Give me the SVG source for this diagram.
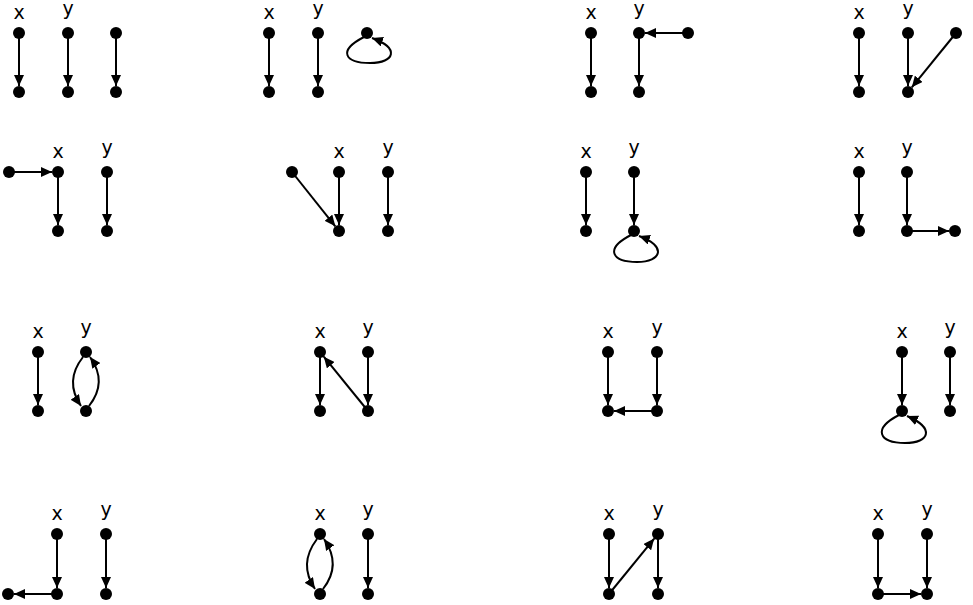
<svg xmlns="http://www.w3.org/2000/svg" width="973" height="605" viewBox="0 0 973 605">
<style>
.e{fill:none;stroke:#000;stroke-width:2;marker-end:url(#ah)}
.n circle{fill:#000}
text{font-family:"DejaVu Sans","Liberation Sans",sans-serif;font-size:19px;fill:#000;text-anchor:middle}
</style>
<defs>
<marker id="ah" markerUnits="userSpaceOnUse" markerWidth="11" markerHeight="10" refX="11" refY="5" orient="auto">
<path d="M0,0 L11,5 L0,10 z" fill="#000"/>
</marker>
</defs>
<rect width="973" height="605" fill="#fff"/>
<g id="connectors">
<!-- P1 -->
<path class="e" d="M19,33 V86"/><path class="e" d="M68,33 V86"/><path class="e" d="M116,33 V86"/>
<!-- P2 -->
<path class="e" d="M269,33 V86"/><path class="e" d="M318,33 V86"/>
<path class="e" d="M364,37 C337,51 345,63 370,63 C395,63 400,48 372,38"/>
<!-- P3 -->
<path class="e" d="M591,33 V86"/><path class="e" d="M639,33 V86"/><path class="e" d="M688,33 H645"/>
<!-- P4 -->
<path class="e" d="M859,33 V86"/><path class="e" d="M908,33 V86"/><path class="e" d="M956,33 L911.8,87.3"/>
<!-- P5 -->
<path class="e" d="M9,172 H52"/><path class="e" d="M58,172 V225"/><path class="e" d="M107,172 V225"/>
<!-- P6 -->
<path class="e" d="M292,172 L335.3,226.3"/><path class="e" d="M339,172 V225"/><path class="e" d="M388,172 V225"/>
<!-- P7 -->
<path class="e" d="M586,172 V225"/><path class="e" d="M634,172 V225"/>
<path class="e" d="M631,235 C604,249 612,262 637,262 C662,262 667,246 639,236"/>
<!-- P8 -->
<path class="e" d="M859,172 V225"/><path class="e" d="M907,172 V225"/><path class="e" d="M907,231 H949"/>
<!-- P9 -->
<path class="e" d="M38,352 V405"/>
<path class="e" d="M83,357 Q64,381 81,406"/>
<path class="e" d="M89,406 Q108,382 90,357"/>
<!-- P10 -->
<path class="e" d="M320,352 V405"/><path class="e" d="M368,352 V405"/><path class="e" d="M368,411 L323.8,356.7"/>
<!-- P11 -->
<path class="e" d="M608,352 V405"/><path class="e" d="M657,352 V405"/><path class="e" d="M657,411 H614"/>
<!-- P12 -->
<path class="e" d="M902,352 V405"/><path class="e" d="M950,352 V405"/>
<path class="e" d="M899,415 C872,429 879,443 905,443 C930,443 935,428 907,416"/>
<!-- P13 -->
<path class="e" d="M57,534 V588"/><path class="e" d="M106,534 V588"/><path class="e" d="M57,594 H14"/>
<!-- P14 -->
<path class="e" d="M368,534 V588"/>
<path class="e" d="M317,539 Q298,564 315,589"/>
<path class="e" d="M323,589 Q342,565 324,539"/>
<!-- P15 -->
<path class="e" d="M609,534 V588"/><path class="e" d="M658,534 V588"/><path class="e" d="M609,594 L654.2,538.6"/>
<!-- P16 -->
<path class="e" d="M878,534 V588"/><path class="e" d="M927,534 V588"/><path class="e" d="M878,594 H921"/>
</g>
<g id="p1" class="n"><text x="19" y="19">x</text><text x="68" y="15">y</text>
<circle cx="19" cy="33" r="6"/><circle cx="19" cy="92" r="6"/><circle cx="68" cy="33" r="6"/><circle cx="68" cy="92" r="6"/><circle cx="116" cy="33" r="6"/><circle cx="116" cy="92" r="6"/></g>
<g id="p2" class="n"><text x="269" y="19">x</text><text x="318" y="15">y</text>
<circle cx="269" cy="33" r="6"/><circle cx="269" cy="92" r="6"/><circle cx="318" cy="33" r="6"/><circle cx="318" cy="92" r="6"/><circle cx="367" cy="33" r="6"/></g>
<g id="p3" class="n"><text x="591" y="19">x</text><text x="639" y="15">y</text>
<circle cx="591" cy="33" r="6"/><circle cx="591" cy="92" r="6"/><circle cx="639" cy="33" r="6"/><circle cx="639" cy="92" r="6"/><circle cx="688" cy="33" r="6"/></g>
<g id="p4" class="n"><text x="859" y="19">x</text><text x="908" y="15">y</text>
<circle cx="859" cy="33" r="6"/><circle cx="859" cy="92" r="6"/><circle cx="908" cy="33" r="6"/><circle cx="908" cy="92" r="6"/><circle cx="956" cy="33" r="6"/></g>
<g id="p5" class="n"><text x="58" y="158">x</text><text x="107" y="154">y</text>
<circle cx="9" cy="172" r="6"/><circle cx="58" cy="172" r="6"/><circle cx="58" cy="231" r="6"/><circle cx="107" cy="172" r="6"/><circle cx="107" cy="231" r="6"/></g>
<g id="p6" class="n"><text x="339" y="158">x</text><text x="388" y="154">y</text>
<circle cx="292" cy="172" r="6"/><circle cx="339" cy="172" r="6"/><circle cx="339" cy="231" r="6"/><circle cx="388" cy="172" r="6"/><circle cx="388" cy="231" r="6"/></g>
<g id="p7" class="n"><text x="586" y="158">x</text><text x="634" y="154">y</text>
<circle cx="586" cy="172" r="6"/><circle cx="586" cy="231" r="6"/><circle cx="634" cy="172" r="6"/><circle cx="634" cy="231" r="6"/></g>
<g id="p8" class="n"><text x="859" y="158">x</text><text x="907" y="154">y</text>
<circle cx="859" cy="172" r="6"/><circle cx="859" cy="231" r="6"/><circle cx="907" cy="172" r="6"/><circle cx="907" cy="231" r="6"/><circle cx="955" cy="231" r="6"/></g>
<g id="p9" class="n"><text x="38" y="338">x</text><text x="86" y="334">y</text>
<circle cx="38" cy="352" r="6"/><circle cx="38" cy="411" r="6"/><circle cx="86" cy="352" r="6"/><circle cx="86" cy="411" r="6"/></g>
<g id="p10" class="n"><text x="320" y="338">x</text><text x="368" y="334">y</text>
<circle cx="320" cy="352" r="6"/><circle cx="320" cy="411" r="6"/><circle cx="368" cy="352" r="6"/><circle cx="368" cy="411" r="6"/></g>
<g id="p11" class="n"><text x="608" y="338">x</text><text x="657" y="334">y</text>
<circle cx="608" cy="352" r="6"/><circle cx="608" cy="411" r="6"/><circle cx="657" cy="352" r="6"/><circle cx="657" cy="411" r="6"/></g>
<g id="p12" class="n"><text x="902" y="338">x</text><text x="950" y="334">y</text>
<circle cx="902" cy="352" r="6"/><circle cx="902" cy="411" r="6"/><circle cx="950" cy="352" r="6"/><circle cx="950" cy="411" r="6"/></g>
<g id="p13" class="n"><text x="57" y="520">x</text><text x="106" y="516">y</text>
<circle cx="8" cy="594" r="6"/><circle cx="57" cy="534" r="6"/><circle cx="57" cy="594" r="6"/><circle cx="106" cy="534" r="6"/><circle cx="106" cy="594" r="6"/></g>
<g id="p14" class="n"><text x="320" y="520">x</text><text x="368" y="516">y</text>
<circle cx="320" cy="534" r="6"/><circle cx="320" cy="594" r="6"/><circle cx="368" cy="534" r="6"/><circle cx="368" cy="594" r="6"/></g>
<g id="p15" class="n"><text x="609" y="520">x</text><text x="658" y="516">y</text>
<circle cx="609" cy="534" r="6"/><circle cx="609" cy="594" r="6"/><circle cx="658" cy="534" r="6"/><circle cx="658" cy="594" r="6"/></g>
<g id="p16" class="n"><text x="878" y="520">x</text><text x="927" y="516">y</text>
<circle cx="878" cy="534" r="6"/><circle cx="878" cy="594" r="6"/><circle cx="927" cy="534" r="6"/><circle cx="927" cy="594" r="6"/></g>
</svg>
